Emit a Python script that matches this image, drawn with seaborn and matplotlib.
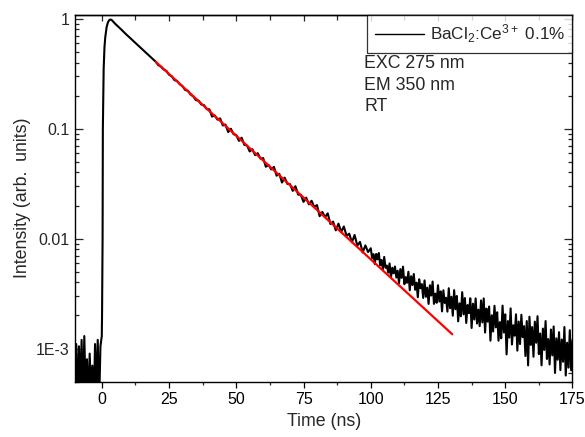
import numpy as np
import pandas as pd
import matplotlib
matplotlib.use("Agg")
import matplotlib.pyplot as plt
import matplotlib.ticker as mticker
import seaborn as sns

# --- data (time in ns, intensity normalised) ---
base_t = np.arange(-10, 0.5, 0.5)
base_i = [4.0e-4, 1.1e-3, 3.0e-4, 1.05e-3, 4e-4, 1.2e-3, 3e-4, 1.3e-3, 4e-4, 8e-4,
          3e-4, 9e-4, 4e-4, 7e-4, 3e-4, 1.1e-3, 4e-4, 1.2e-3, 3e-4, 1.05e-3, 1.3e-3]

rise_t = [0.1, 0.3, 0.4, 0.7, 1.0, 1.3, 1.8, 2.3, 2.8, 3.2, 3.7]
rise_i = [0.002, 0.01, 0.1, 0.35, 0.55, 0.68, 0.84, 0.93, 0.975, 0.985, 0.975]

decay_t = [5, 7, 9, 11, 13, 15, 17, 19]
decay_i = [0.90, 0.81, 0.725, 0.652, 0.588, 0.53, 0.477, 0.43]

mid_t = np.arange(20, 100, 1)
mid_i = [0.408, 0.379, 0.367, 0.346, 0.336, 0.310, 0.300, 0.277, 0.272, 0.254,
         0.244, 0.225, 0.222, 0.205, 0.197, 0.182, 0.180, 0.166, 0.164, 0.151,
         0.150, 0.129, 0.132, 0.121, 0.124, 0.107, 0.109, 0.0933, 0.0999, 0.0891,
         0.0876, 0.0775, 0.0828, 0.0714, 0.0703, 0.0621, 0.0651, 0.0576, 0.0599, 0.0535,
         0.0540, 0.0451, 0.0469, 0.0426, 0.0450, 0.0374, 0.0389, 0.0324, 0.0359, 0.0315,
         0.0313, 0.0272, 0.0300, 0.0252, 0.0250, 0.0216, 0.0236, 0.0205, 0.0221, 0.0194,
         0.0202, 0.0160, 0.0175, 0.0157, 0.0170, 0.0136, 0.0143, 0.0119, 0.0137, 0.0115,
         0.0129, 0.0106, 0.0111, 0.00926, 0.0108, 0.00864, 0.00934, 0.00749, 0.00869, 0.00755]

tail_t = np.arange(100, 175.5, 0.5)
tail_i = [0.00818, 0.00666, 0.00723, 0.00588, 0.00726, 0.00649, 0.0074, 0.00572, 0.0064, 0.00527,
          0.00682, 0.00543, 0.00569, 0.00491, 0.00595, 0.00443, 0.00544, 0.00484, 0.00558, 0.00443,
          0.00511, 0.00393, 0.00528, 0.0044, 0.00556, 0.00385, 0.00447, 0.00397, 0.005, 0.00339,
          0.00455, 0.00379, 0.00477, 0.00343, 0.00398, 0.00293, 0.00427, 0.00354, 0.00386, 0.00289,
          0.00417, 0.00296, 0.00358, 0.00255, 0.00377, 0.00304, 0.00407, 0.00255, 0.00316, 0.00261,
          0.00377, 0.00268, 0.00331, 0.00218, 0.00339, 0.0026, 0.0029, 0.00217, 0.00354, 0.00233,
          0.00296, 0.00199, 0.0034, 0.00228, 0.00301, 0.00177, 0.00258, 0.00197, 0.00326, 0.00205,
          0.00288, 0.00171, 0.00249, 0.0021, 0.00287, 0.00154, 0.00256, 0.00184, 0.00286, 0.00169,
          0.00226, 0.0016, 0.00274, 0.00173, 0.00286, 0.0014, 0.00231, 0.00176, 0.00241, 0.00118,
          0.00201, 0.00143, 0.00245, 0.00156, 0.00214, 0.00118, 0.00174, 0.00124, 0.00246, 0.0014,
          0.00205, 0.000885, 0.00178, 0.00126, 0.00232, 0.00109, 0.00163, 0.00131, 0.00205, 0.000958,
          0.00176, 0.0011, 0.00203, 0.00127, 0.0016, 0.000856, 0.00178, 0.000703, 0.00195, 0.00108,
          0.00157, 0.000843, 0.00176, 0.00113, 0.00197, 0.000891, 0.00137, 0.000704, 0.00152, 0.000973,
          0.00178, 0.000804, 0.00122, 0.000717, 0.00149, 0.000867, 0.00159, 0.0006, 0.00124, 0.000792,
          0.00141, 0.000637, 0.00121, 0.000759, 0.00157, 0.000569, 0.00113, 0.000671, 0.00147, 0.000635,
          0.0012]

fit_t = [20.1, 130.3]
fit_i = [0.406, 0.00135]

x_ticks = [0, 25, 50, 75, 100, 125, 150, 175]
y_ticks = [1e-3, 1e-2, 1e-1, 1]
y_labels = ["1E-3", "0.01", "0.1", "1"]
legend_label = r"BaCl$_2$:Ce$^{3+}$ 0.1%"
notes = ["EXC 275 nm", "EM 350 nm", "RT"]

decay = pd.DataFrame({
    "time": np.concatenate([base_t, rise_t, decay_t, mid_t, tail_t]),
    "intensity": np.concatenate([base_i, rise_i, decay_i, mid_i, tail_i]),
})
fit = pd.DataFrame({"time": fit_t, "intensity": fit_i})

sns.set_style("ticks")
plt.rcParams["font.family"] = ["Liberation Sans", "DejaVu Sans"]
plt.rcParams["mathtext.default"] = "regular"

fig = plt.figure(figsize=(5.85, 4.37), dpi=100)
ax = fig.add_axes([0.128, 0.1266, 0.8506, 0.8398])

sns.lineplot(data=decay, x="time", y="intensity", ax=ax, color="black",
             lw=1.5, sort=False, estimator=None, label=legend_label)
sns.lineplot(data=fit, x="time", y="intensity", ax=ax, color="#ff0000",
             lw=1.6, sort=False, estimator=None)

ax.set_yscale("log")
ax.set_xlim(-10, 175)
ax.set_ylim(5e-4, 1.09)

ax.xaxis.set_major_locator(mticker.FixedLocator(x_ticks))
ax.xaxis.set_minor_locator(mticker.MultipleLocator(12.5))
ax.yaxis.set_major_locator(mticker.FixedLocator(y_ticks))
ax.yaxis.set_major_formatter(mticker.FixedFormatter(y_labels))
ax.yaxis.set_minor_locator(mticker.LogLocator(base=10, subs=np.arange(2, 10)))
ax.yaxis.set_minor_formatter(mticker.NullFormatter())

ax.tick_params(axis="x", which="major", direction="out", length=4.5, width=0.9,
               labelsize=11.5, colors="black", pad=3)
ax.tick_params(axis="x", which="minor", direction="out", length=2.5, width=0.9)
ax.tick_params(axis="y", which="major", direction="in", length=5.5, width=0.9,
               labelsize=11.5, left=True, right=True, pad=4)
ax.tick_params(axis="y", which="minor", direction="in", length=3, width=0.9,
               left=True, right=True)

top = ax.secondary_xaxis("top")
top.xaxis.set_major_locator(mticker.FixedLocator(x_ticks))
top.xaxis.set_minor_locator(mticker.MultipleLocator(12.5))
top.tick_params(which="major", direction="in", length=4.5, width=0.9, labeltop=False)
top.tick_params(which="minor", direction="in", length=3.5, width=0.9)

for sp in list(ax.spines.values()) + list(top.spines.values()):
    sp.set_linewidth(1.0)
    sp.set_color("black")

ax.set_xlabel("Time (ns)", fontsize=12.8, labelpad=4)
ax.set_ylabel("Intensity (arb.  units)", fontsize=12.8, labelpad=3)

leg = ax.legend(loc="upper right", bbox_to_anchor=(1, 1), borderaxespad=0,
                frameon=True, fancybox=False, fontsize=12.3, handlelength=2.9,
                handletextpad=0.3, borderpad=0.45)
leg.get_frame().set_edgecolor("black")
leg.get_frame().set_linewidth(0.9)
for line in leg.get_lines():
    line.set_linewidth(1.0)

for txt, yy in zip(notes, [0.868, 0.808, 0.751]):
    ax.text(0.582, yy, txt, transform=ax.transAxes, fontsize=12.8, va="center", ha="left")

fig.savefig("out.png", dpi=100)
